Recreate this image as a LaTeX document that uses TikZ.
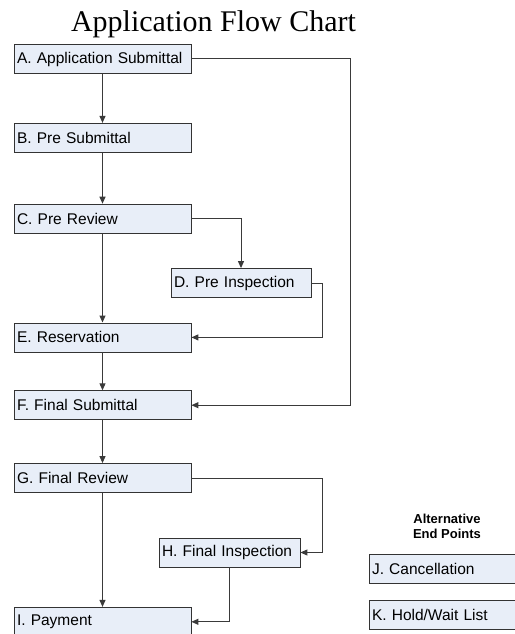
\documentclass[tikz,border=0pt]{standalone}
\usepackage{fontspec}
\setmainfont{Liberation Serif}
\setsansfont{Liberation Sans}
\usetikzlibrary{arrows.meta,positioning}

\definecolor{boxfill}{HTML}{E8EEF8}
\definecolor{boxline}{HTML}{333333}
\definecolor{flowline}{HTML}{3A3A3A}

\tikzset{
  stepbox/.style={draw=boxline, line width=0.8pt, fill=boxfill,
    font=\sffamily\fontsize{15.5}{18}\selectfont, minimum height=29pt,
    inner xsep=3pt, inner ysep=0pt, text width=#1, align=left},
  stepbox/.default=171pt,
  flow/.style={draw=flowline, line width=1pt, -{Triangle[length=7pt,width=6pt]}},
}

\begin{document}
\begin{tikzpicture}[x=1pt, y=-1pt, node distance=50pt]
\useasboundingbox (0,0) rectangle (514,634);

\node[font=\fontsize{30}{34}\selectfont, anchor=base] (title) at (213.5,32) {Application Flow Chart};

% main column
\node[stepbox] (A) at (102.5,59) {A. Application Submittal};
\node[stepbox, below=49pt of A] (B) {B. Pre Submittal};
\node[stepbox, below=51pt of B] (C) {C. Pre Review};
\node[stepbox, below=89pt of C] (E) {E. Reservation};
\node[stepbox, below=38pt of E] (F) {F. Final Submittal};
\node[stepbox, below=43pt of F] (G) {G. Final Review};
\node[stepbox, below=114pt of G] (I) {I. Payment};

% inspections
\node[stepbox=134pt] (D) at (241,283) {D. Pre Inspection};
\node[stepbox=135pt] (H) at (229.5,552.5) {H. Final Inspection};

% end points
\node[font=\sffamily\bfseries\fontsize{13}{15}\selectfont, align=center] (alt) at (447,526) {Alternative\\End Points};
\node[stepbox=154pt] (J) at (449,569) {J. Cancellation};
\node[stepbox=154pt] (K) at (449,615) {K. Hold/Wait List};

\coordinate (loopA) at (350,59);

\draw[flow] (A) -- (B);
\draw[flow] (B) -- (C);
\draw[flow] (C) -- (E);
\draw[flow] (C.east) -| (D.north);
\draw[flow] (D.east) -- ++(11,0) |- (E.east);
\draw[flow] (A.east) -- (loopA) |- (F.east);
\draw[flow] (E) -- (F);
\draw[flow] (F) -- (G);
\draw[flow] (G) -- (I);
\draw[flow] (G.east) -- ++(131,0) |- (H.east);
\draw[flow] (H.south) |- (I.east);
\end{tikzpicture}
\end{document}
